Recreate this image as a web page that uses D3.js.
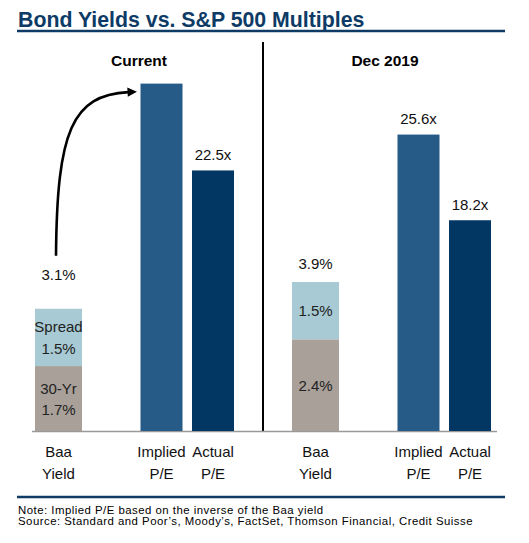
<!DOCTYPE html>
<html>
<head>
<meta charset="utf-8">
<script src="https://cdn.jsdelivr.net/npm/d3@7"></script>
<style>
  html, body { margin: 0; padding: 0; background: #fff; }
  svg { display: block; font-family: "Liberation Sans", Arial, Helvetica, sans-serif; }
</style>
</head>
<body>
<svg id="chart" width="529" height="543"></svg>
<script>
// ---- Data ----
const panels = ["Current", "Dec 2019"];
const slots = ["Baa Yield", "gap", "Implied P/E", "Actual P/E"];
const categoryLines = { "Baa Yield": ["Baa", "Yield"], "Implied P/E": ["Implied", "P/E"], "Actual P/E": ["Actual", "P/E"] };
const treasury30 = [1.7, 2.4];
const spread = [1.5, 1.5];
const baaYieldLabels = ["3.1%", "3.9%"];
const treasuryLabels = [["30-Yr", "1.7%"], ["2.4%"]];
const spreadLabels = [["Spread", "1.5%"], ["1.5%"]];
const impliedPE = [30.0, 25.6];
const impliedLabels = [null, "25.6x"];
const actualPE = [22.5, 18.2];
const actualLabels = ["22.5x", "18.2x"];
const title = "Bond Yields vs. S&P 500 Multiples";
const notes = ["Note: Implied P/E based on the inverse of the Baa yield",
               "Source: Standard and Poor\u2019s, Moody\u2019s, FactSet, Thomson Financial, Credit Suisse"];

// ---- Styles ----
const C = {
  navy: "#0d3b66", spread: "#a7cad4", treasury: "#a9a099",
  implied: "#265a87", actual: "#023764", text: "#111", axis: "#999"
};

const svg = d3.select("#chart");
const baseY = 431;
const panelOffset = 257;

const yYield = d3.scaleLinear().domain([0, 10]).range([baseY, baseY - 382]);
const yPE = d3.scaleLinear().domain([0, 30]).range([baseY, baseY - 347.4]);

// Title
svg.append("text").attr("x", 18).attr("y", 27)
  .attr("font-size", 21.3).attr("font-weight", "bold").attr("fill", C.navy).text(title);
svg.append("line").attr("x1", 17).attr("x2", 505).attr("y1", 31).attr("y2", 31)
  .attr("stroke", C.navy).attr("stroke-width", 2.5);
svg.append("line").attr("x1", 17).attr("x2", 505).attr("y1", 497).attr("y2", 497)
  .attr("stroke", C.navy).attr("stroke-width", 2.5);

// Notes
notes.forEach((n, i) => {
  svg.append("text").attr("x", 18).attr("y", 513.5 + i * 11.5)
    .attr("font-size", 11.4).attr("letter-spacing", 0.48).attr("fill", "#000").text(n);
});

// Divider
svg.append("line").attr("x1", 263).attr("x2", 263).attr("y1", 42).attr("y2", 432)
  .attr("stroke", "#000").attr("stroke-width", 2);

// Arrow marker
svg.append("defs").append("marker")
  .attr("id", "arrowhead").attr("viewBox", "0 0 10 10")
  .attr("refX", 1).attr("refY", 5)
  .attr("markerWidth", 4.2).attr("markerHeight", 3.6)
  .attr("markerUnits", "strokeWidth")
  .attr("orient", "auto")
  .append("path").attr("d", "M0,0 L10,5 L0,10 Z").attr("fill", "#000");

panels.forEach((p, i) => {
  const off = i * panelOffset;
  const x = d3.scalePoint().domain(slots).range([58.5 + off, 213 + off]);
  const g = svg.append("g");
  const wBaa = 47, wPE = 42;

  // axis line
  g.append("line")
    .attr("x1", i === 0 ? 32 : 264).attr("x2", i === 0 ? 264 : 497)
    .attr("y1", baseY + 0.5).attr("y2", baseY + 0.5)
    .attr("stroke", C.axis).attr("stroke-width", 1.5);

  // panel header
  g.append("text").attr("x", i === 0 ? 139 : 385).attr("y", 65.5)
    .attr("text-anchor", "middle").attr("font-size", 15.5).attr("font-weight", "bold")
    .attr("fill", "#000").text(p);

  const cx = x("Baa Yield");
  const t = treasury30[i], s = spread[i];
  // stacked Baa bar
  g.append("rect").attr("x", cx - wBaa / 2).attr("width", wBaa)
    .attr("y", yYield(t)).attr("height", yYield(0) - yYield(t)).attr("fill", C.treasury);
  g.append("rect").attr("x", cx - wBaa / 2).attr("width", wBaa)
    .attr("y", yYield(t + s)).attr("height", yYield(t) - yYield(t + s)).attr("fill", C.spread);

  const segLabel = (lines, yTop, yBot) => {
    const c = (yTop + yBot) / 2;
    const t = g.append("text").attr("text-anchor", "middle").attr("font-size", 15).attr("fill", "#222");
    if (lines.length === 1) {
      t.append("tspan").attr("x", cx).attr("y", c + 5.5).text(lines[0]);
    } else {
      t.append("tspan").attr("x", cx).attr("y", c - 5).text(lines[0]);
      t.append("tspan").attr("x", cx).attr("y", c + 16.5).text(lines[1]);
    }
  };
  segLabel(treasuryLabels[i], yYield(t), yYield(0));
  segLabel(spreadLabels[i], yYield(t + s), yYield(t));

  // total label
  g.append("text").attr("x", cx).attr("y", yYield(t + s) - (i === 0 ? 29 : 13))
    .attr("text-anchor", "middle").attr("font-size", 15).attr("fill", C.text)
    .text(baaYieldLabels[i]);

  // P/E bars
  [["Implied P/E", impliedPE[i], impliedLabels[i], C.implied],
   ["Actual P/E", actualPE[i], actualLabels[i], C.actual]].forEach(([cat, v, lab, col]) => {
    const bx = x(cat);
    g.append("rect").attr("x", bx - wPE / 2).attr("width", wPE)
      .attr("y", yPE(v)).attr("height", yPE(0) - yPE(v)).attr("fill", col);
    if (lab) {
      g.append("text").attr("x", bx).attr("y", yPE(v) - 10.5)
        .attr("text-anchor", "middle").attr("font-size", 15).attr("fill", C.text).text(lab);
    }
  });

  // category labels
  ["Baa Yield", "Implied P/E", "Actual P/E"].forEach(cat => {
    const tx = g.append("text").attr("text-anchor", "middle").attr("font-size", 15).attr("fill", C.text);
    categoryLines[cat].forEach((ln, k) => {
      tx.append("tspan").attr("x", x(cat)).attr("y", 457 + k * 22).text(ln);
    });
  });

  // arrow on current panel
  if (i === 0) {
    const sx = cx - 2.5, sy = yYield(t + s) - 53;
    const ex = x("Implied P/E") - wPE / 2 - 12, ey = yPE(impliedPE[i]) + 8.5;
    const path = d3.path();
    path.moveTo(sx, sy);
    path.bezierCurveTo(sx + 1, sy - 125, sx + 16, ey + 3, ex, ey);
    g.append("path").attr("d", path.toString())
      .attr("fill", "none").attr("stroke", "#000").attr("stroke-width", 2.6)
      .attr("marker-end", "url(#arrowhead)");
  }
});
</script>
</body>
</html>
